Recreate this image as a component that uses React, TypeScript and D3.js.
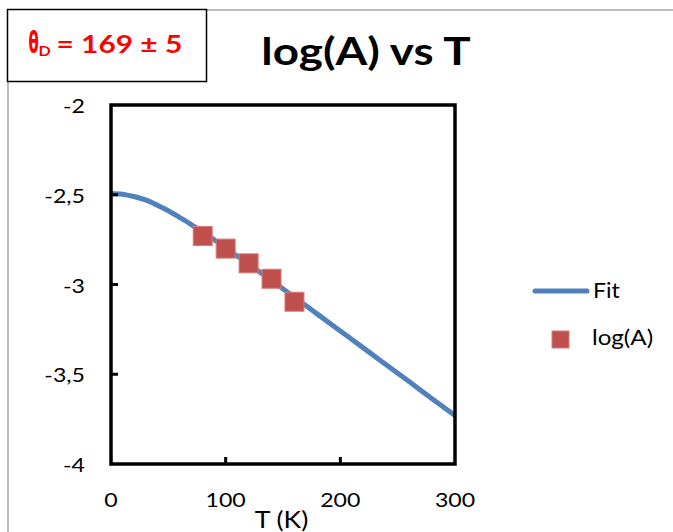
import React from "react";
import * as d3 from "d3";

const fitT = [0, 10, 20, 30, 40, 50, 60, 70, 80, 90, 100, 120, 140, 160, 180, 200, 220, 240, 260, 280, 300];
const fitLogA = [-2.493, -2.497, -2.51, -2.529, -2.557, -2.589, -2.627, -2.666, -2.708, -2.751, -2.796, -2.886, -2.978, -3.071, -3.165, -3.259, -3.353, -3.447, -3.541, -3.636, -3.73];
const dataT = [80, 100, 120, 140, 160];
const dataLogA = [-2.73, -2.8, -2.882, -2.968, -3.096];
const xTicks = [0, 100, 200, 300];
const yTicks = [-2, -2.5, -3, -3.5, -4];
const xTickLabels = ["0", "100", "200", "300"];
const yTickLabels = ["-2", "-2,5", "-3", "-3,5", "-4"];

const W = 673, H = 532;
const FONT = "Lato, 'Open Sans', sans-serif";
const BLUE = "#4F81BD";
const RED = "#C0504D";

type TP = {
  x: number; y: number; size: number; sx?: number; anchor?: "start" | "middle" | "end";
  bold?: boolean; fill?: string; children: React.ReactNode; family?: string;
};
function Txt({ x, y, size, sx = 1, anchor = "start", bold, fill = "#000", children, family }: TP) {
  return (
    <text
      transform={`translate(${x},${y}) scale(${sx},1)`}
      textAnchor={anchor}
      fontSize={size}
      fontWeight={bold ? "bold" : "normal"}
      fill={fill}
      fontFamily={family}
    >
      {children}
    </text>
  );
}

export default function App() {
  const x = d3.scaleLinear().domain([0, 300]).range([111, 455]);
  const y = d3.scaleLinear().domain([-2, -4]).range([105, 464]);
  const line = d3
    .line<number>()
    .x((_, i) => x(fitT[i]))
    .y((d) => y(d))
    .curve(d3.curveMonotoneX);
  const sq = 19;
  return (
    <svg width={W} height={H} style={{ position: "absolute", left: 0, top: 0, background: "#fff" }} fontFamily={FONT}>
      <rect x={8} y={10} width={800} height={700} fill="#fff" stroke="#a6a6a6" strokeWidth={1.5} />
      {/* title */}
      <Txt x={366} y={65} size={37.5} sx={1.22} anchor="middle" bold>log(A) vs T</Txt>
      {/* text box */}
      <rect x={7.5} y={9.5} width={199} height={72} fill="#fff" stroke="#000" strokeWidth={1.5} />
      <Txt x={28.5} y={53} size={30} sx={0.5} bold fill="#ff0000" family="'DejaVu Sans', sans-serif">θ</Txt>
      <Txt x={38.5} y={55.5} size={14} sx={1.15} bold fill="#ff0000">D</Txt>
      <Txt x={56.5} y={53} size={24.5} sx={1.22} bold fill="#ff0000">= 169 ± 5</Txt>
      {/* fit line */}
      <path d={line(fitLogA) || ""} fill="none" stroke={BLUE} strokeWidth={5} />
      {/* data squares */}
      {dataT.map((t, i) => (
        <rect key={t} x={x(t) - sq / 2} y={y(dataLogA[i]) - sq / 2} width={sq} height={sq} fill={RED} stroke="#d77b78" strokeWidth={1} />
      ))}
      {/* frame */}
      <rect x={x(0)} y={y(-2)} width={x(300) - x(0)} height={y(-4) - y(-2)} fill="none" stroke="#000" strokeWidth={3.5} />
      {/* ticks */}
      {xTicks.slice(1, 3).map((t) => (
        <line key={t} x1={x(t)} x2={x(t)} y1={y(-4)} y2={y(-4) - 7} stroke="#000" strokeWidth={3} />
      ))}
      {yTicks.slice(1, 4).map((t) => (
        <line key={t} x1={x(0)} x2={x(0) + 7} y1={y(t)} y2={y(t)} stroke="#000" strokeWidth={3} />
      ))}
      {/* tick labels */}
      {xTicks.map((t, i) => (
        <Txt key={t} x={x(t)} y={506.5} size={18.5} sx={1.25} anchor="middle">{xTickLabels[i]}</Txt>
      ))}
      {yTicks.map((t, i) => (
        <Txt key={t} x={85} y={y(t) + 8} size={18.5} sx={1.25} anchor="end">{yTickLabels[i]}</Txt>
      ))}
      <Txt x={281.5} y={527.5} size={22.5} sx={1.18} anchor="middle">T (K)</Txt>
      {/* legend */}
      <line x1={535} x2={587} y1={291} y2={291} stroke={BLUE} strokeWidth={5} strokeLinecap="round" />
      <Txt x={593} y={298} size={21} sx={1.1}>Fit</Txt>
      <rect x={552} y={331} width={17} height={17} fill={RED} stroke="#d77b78" strokeWidth={1} />
      <Txt x={592} y={345} size={21} sx={1.15}>log(A)</Txt>
    </svg>
  );
}
